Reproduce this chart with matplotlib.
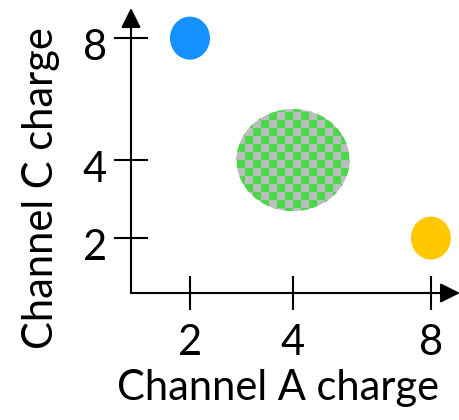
import numpy as np
import matplotlib
matplotlib.use('Agg')
import matplotlib.pyplot as plt
from matplotlib.patches import Ellipse, Rectangle
from matplotlib.collections import PatchCollection
from matplotlib.transforms import ScaledTranslation

plt.rcParams['font.family'] = ['Lato', 'DejaVu Sans']

# data
a_ticks = [2, 4, 8]            # channel A charge tick values
c_ticks = [2, 4, 8]            # channel C charge tick values
cluster_a = [2, 4, 8]          # cluster centres, channel A
cluster_c = [8, 4, 2]          # cluster centres, channel C
cluster_w = [0.40, 1.13, 0.40] # cluster size, inches
cluster_h = [0.43, 1.02, 0.43]
cluster_col = ['#1591ff', None, '#ffc800']   # None -> checkerboard

# where the ticks sit along each axis (axes fraction), the axis is not even
x_tick_frac = [0.186, 0.511, 0.946]
y_tick_frac = [0.205, 0.496, 0.951]


def piecewise(vals, fracs):
    v = np.array(vals, float)
    f = np.array(fracs, float)
    v_ext = np.r_[v[0] - 100, v, v[-1] + 100]
    f_ext = np.r_[f[0] - 100 * (f[1] - f[0]) / (v[1] - v[0]), f,
                  f[-1] + 100 * (f[-1] - f[-2]) / (v[-1] - v[-2])]
    fwd = lambda x: np.interp(x, v_ext, f_ext)
    inv = lambda y: np.interp(y, f_ext, v_ext)
    return fwd, inv


fig = plt.figure(figsize=(4.6, 4.2), dpi=100)
ax = fig.add_axes([131 / 460, 127 / 420, 317 / 460, 268 / 420])

xf, xi = piecewise(a_ticks, x_tick_frac)
yf, yi = piecewise(c_ticks, y_tick_frac)
ax.set_xscale('function', functions=(xf, xi))
ax.set_yscale('function', functions=(yf, yi))
ax.set_xlim(xi(0), xi(1))
ax.set_ylim(yi(0), yi(1))

for s in ax.spines.values():
    s.set_visible(False)

# axis lines with arrow heads
arrow = dict(arrowstyle='-|>,head_length=0.6,head_width=0.3', lw=1.5, color='black',
             mutation_scale=20, shrinkA=0, shrinkB=0)
ax.annotate('', xy=(1 + 12 / 317, 0), xytext=(0, 0), xycoords='axes fraction',
            arrowprops=arrow, annotation_clip=False)
ax.annotate('', xy=(0, 1 + 17 / 268), xytext=(0, 0), xycoords='axes fraction',
            arrowprops=arrow, annotation_clip=False)

ax.set_xticks(a_ticks)
ax.set_xticklabels([str(t) for t in a_ticks])
ax.set_yticks(c_ticks)
ax.set_yticklabels([str(t) for t in c_ticks])
ax.minorticks_off()
ax.tick_params(direction='inout', length=24.5, width=1.5, labelsize=30, color='black')
ax.tick_params(axis='x', pad=10)
ax.tick_params(axis='y', pad=5)
# y labels sit a little below their ticks in the original
for lab in ax.get_yticklabels():
    lab.set_transform(lab.get_transform() + ScaledTranslation(0, -0.06, fig.dpi_scale_trans))

ax.set_xlabel('Channel A charge', fontsize=30)
ax.set_ylabel('Channel C charge', fontsize=30)
ax.xaxis.set_label_coords(0.464, -0.285)
ax.yaxis.set_label_coords(-0.225, 0.392)

# clusters
for a, c, w, h, col in zip(cluster_a, cluster_c, cluster_w, cluster_h, cluster_col):
    tr = fig.dpi_scale_trans + ScaledTranslation(a, c, ax.transData)
    if col is not None:
        ax.add_patch(Ellipse((0, 0), w, h, facecolor=col, edgecolor='none',
                             transform=tr, clip_on=False))
        continue
    base = Ellipse((0, 0), w, h, facecolor='#bdbdbd', edgecolor='none',
                   transform=tr, clip_on=False)
    ax.add_patch(base)
    sq = 0.08
    n = int(np.ceil(max(w, h) / sq / 2)) + 1
    squares = []
    for i in range(-n, n):
        for j in range(-n, n):
            if (i + j) % 2 == 0:
                squares.append(Rectangle((i * sq, j * sq), sq, sq))
    pc = PatchCollection(squares, facecolor='#48d848', edgecolor='none', transform=tr)
    ax.add_collection(pc)
    pc.set_clip_path(base)

fig.savefig('out.png', dpi=100)
